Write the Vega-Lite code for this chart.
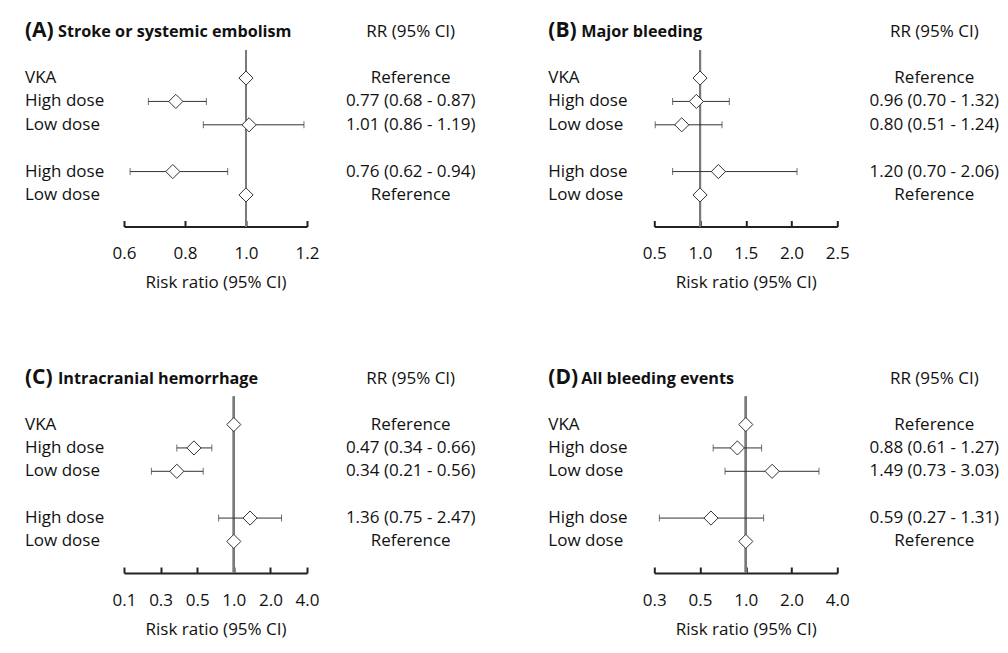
{
  "$schema": "https://vega.github.io/schema/vega-lite/v6.json",
  "padding": {"left": 25, "top": 20, "right": 0, "bottom": 6},
  "background": "white",
  "config": {
    "view": {"stroke": null},
    "font": "Open Sans",
    "text": {"font": "Open Sans", "fontSize": 17, "color": "#111111"},
    "axis": {
      "grid": false,
      "domainColor": "#222222",
      "domainWidth": 2,
      "tickColor": "#222222",
      "tickWidth": 2,
      "tickSize": -6,
      "labelFont": "Open Sans",
      "labelFontSize": 17,
      "labelColor": "#111111",
      "labelPadding": 25,
      "labelFlush": false,
      "labelOverlap": false,
      "titleFont": "Open Sans",
      "titleFontSize": 17,
      "titleFontWeight": "normal",
      "titleColor": "#111111",
      "titlePadding": 13
    }
  },
  "datasets": {
    "rows": [
      {"panel": "A", "row": 2, "label": "VKA", "est": 1.0, "lo": null, "hi": null, "rr": "Reference"},
      {"panel": "A", "row": 3, "label": "High dose", "est": 0.77, "lo": 0.68, "hi": 0.87, "rr": "0.77 (0.68 - 0.87)"},
      {"panel": "A", "row": 4, "label": "Low dose", "est": 1.01, "lo": 0.86, "hi": 1.19, "rr": "1.01 (0.86 - 1.19)"},
      {"panel": "A", "row": 6, "label": "High dose", "est": 0.76, "lo": 0.62, "hi": 0.94, "rr": "0.76 (0.62 - 0.94)"},
      {"panel": "A", "row": 7, "label": "Low dose", "est": 1.0, "lo": null, "hi": null, "rr": "Reference"},
      {"panel": "B", "row": 2, "label": "VKA", "est": 1.0, "lo": null, "hi": null, "rr": "Reference"},
      {"panel": "B", "row": 3, "label": "High dose", "est": 0.96, "lo": 0.70, "hi": 1.32, "rr": "0.96 (0.70 - 1.32)"},
      {"panel": "B", "row": 4, "label": "Low dose", "est": 0.80, "lo": 0.51, "hi": 1.24, "rr": "0.80 (0.51 - 1.24)"},
      {"panel": "B", "row": 6, "label": "High dose", "est": 1.20, "lo": 0.70, "hi": 2.06, "rr": "1.20 (0.70 - 2.06)"},
      {"panel": "B", "row": 7, "label": "Low dose", "est": 1.0, "lo": null, "hi": null, "rr": "Reference"},
      {"panel": "C", "row": 2, "label": "VKA", "est": 1.0, "lo": null, "hi": null, "rr": "Reference"},
      {"panel": "C", "row": 3, "label": "High dose", "est": 0.47, "lo": 0.34, "hi": 0.66, "rr": "0.47 (0.34 - 0.66)"},
      {"panel": "C", "row": 4, "label": "Low dose", "est": 0.34, "lo": 0.21, "hi": 0.56, "rr": "0.34 (0.21 - 0.56)"},
      {"panel": "C", "row": 6, "label": "High dose", "est": 1.36, "lo": 0.75, "hi": 2.47, "rr": "1.36 (0.75 - 2.47)"},
      {"panel": "C", "row": 7, "label": "Low dose", "est": 1.0, "lo": null, "hi": null, "rr": "Reference"},
      {"panel": "D", "row": 2, "label": "VKA", "est": 1.0, "lo": null, "hi": null, "rr": "Reference"},
      {"panel": "D", "row": 3, "label": "High dose", "est": 0.88, "lo": 0.61, "hi": 1.27, "rr": "0.88 (0.61 - 1.27)"},
      {"panel": "D", "row": 4, "label": "Low dose", "est": 1.49, "lo": 0.73, "hi": 3.03, "rr": "1.49 (0.73 - 3.03)"},
      {"panel": "D", "row": 6, "label": "High dose", "est": 0.59, "lo": 0.27, "hi": 1.31, "rr": "0.59 (0.27 - 1.31)"},
      {"panel": "D", "row": 7, "label": "Low dose", "est": 1.0, "lo": null, "hi": null, "rr": "Reference"}
    ],
    "panels": [
      {"panel": "A", "tag": "(A)", "title": "Stroke or systemic embolism", "head": "RR (95% CI)"},
      {"panel": "B", "tag": "(B)", "title": "Major bleeding", "head": "RR (95% CI)"},
      {"panel": "C", "tag": "(C)", "title": "Intracranial hemorrhage", "head": "RR (95% CI)"},
      {"panel": "D", "tag": "(D)", "title": "All bleeding events", "head": "RR (95% CI)"}
    ]
  },
  "vconcat": [
    {
      "hconcat": [
        {
          "hconcat": [
            {
              "width": 68.3, "height": 176.5,
              "layer": [
                {"data": {"name": "rows"}, "transform": [{"filter": "datum.panel == 'A'"}],
                 "mark": {"type": "text", "align": "left", "baseline": "middle"},
                 "encoding": {"x": {"datum": 0, "type": "quantitative", "scale": {"domain": [0, 1]}, "axis": null},
                              "y": {"field": "row", "type": "quantitative", "scale": {"domain": [0.8, 8.35], "reverse": true, "nice": false, "zero": false}, "axis": null},
                              "text": {"field": "label"}}},
                {"data": {"name": "panels"}, "transform": [{"filter": "datum.panel == 'A'"}],
                 "mark": {"type": "text", "align": "left", "baseline": "alphabetic", "fontWeight": "bold", "fontSize": 21},
                 "encoding": {"x": {"datum": 0, "type": "quantitative"}, "y": {"datum": 0.25, "type": "quantitative"}, "text": {"field": "tag"}}},
                {"data": {"name": "panels"}, "transform": [{"filter": "datum.panel == 'A'"}],
                 "mark": {"type": "text", "align": "left", "baseline": "alphabetic", "fontWeight": "bold", "fontSize": 16.2, "dx": 33},
                 "encoding": {"x": {"datum": 0, "type": "quantitative"}, "y": {"datum": 0.25, "type": "quantitative"}, "text": {"field": "title"}}}
              ]
            },
            {
              "width": 183, "height": 176.5,
              "data": {"name": "rows"}, "transform": [{"filter": "datum.panel == 'A'"}],
              "layer": [
                {"mark": {"type": "rule", "color": "#7a7a7a", "strokeWidth": 2},
                 "encoding": {"x": {"datum": 1, "type": "quantitative", "scale": {"domain": [0.6, 1.2], "nice": false, "zero": false},
                                    "axis": {"values": [0.6, 0.8, 1.0, 1.2], "format": ".1f", "title": "Risk ratio (95% CI)"}}}},
                {"transform": [{"filter": "isValid(datum.lo)"}],
                 "mark": {"type": "rule", "color": "#333333", "strokeWidth": 1},
                 "encoding": {"x": {"field": "lo", "type": "quantitative"}, "x2": {"field": "hi"},
                              "y": {"field": "row", "type": "quantitative", "scale": {"domain": [0.8, 8.35], "reverse": true, "nice": false, "zero": false}, "axis": null}}},
                {"transform": [{"filter": "isValid(datum.lo)"}],
                 "mark": {"type": "tick", "orient": "vertical", "color": "#333333", "size": 7, "thickness": 1},
                 "encoding": {"x": {"field": "lo", "type": "quantitative"}, "y": {"field": "row", "type": "quantitative"}}},
                {"transform": [{"filter": "isValid(datum.hi)"}],
                 "mark": {"type": "tick", "orient": "vertical", "color": "#333333", "size": 7, "thickness": 1},
                 "encoding": {"x": {"field": "hi", "type": "quantitative"}, "y": {"field": "row", "type": "quantitative"}}},
                {"mark": {"type": "point", "shape": "diamond", "filled": true, "fill": "white", "stroke": "#333333", "strokeWidth": 1, "size": 200, "opacity": 1},
                 "encoding": {"x": {"field": "est", "type": "quantitative"}, "y": {"field": "row", "type": "quantitative"}}}
              ]
            },
            {
              "width": 147.4, "height": 176.5,
              "layer": [
                {"data": {"name": "rows"}, "transform": [{"filter": "datum.panel == 'A'"}],
                 "mark": {"type": "text", "align": "center", "baseline": "middle"},
                 "encoding": {"y": {"field": "row", "type": "quantitative", "scale": {"domain": [0.8, 8.35], "reverse": true, "nice": false, "zero": false}, "axis": null},
                              "text": {"field": "rr"}}},
                {"data": {"name": "panels"}, "transform": [{"filter": "datum.panel == 'A'"}],
                 "mark": {"type": "text", "align": "center", "baseline": "alphabetic"},
                 "encoding": {"y": {"datum": 0.25, "type": "quantitative"}, "text": {"field": "head"}}}
              ]
            }
          ],
          "spacing": 30, "bounds": "flush"
        },
        {
          "hconcat": [
            {
              "width": 76, "height": 176.5,
              "layer": [
                {"data": {"name": "rows"}, "transform": [{"filter": "datum.panel == 'B'"}],
                 "mark": {"type": "text", "align": "left", "baseline": "middle"},
                 "encoding": {"x": {"datum": 0, "type": "quantitative", "scale": {"domain": [0, 1]}, "axis": null},
                              "y": {"field": "row", "type": "quantitative", "scale": {"domain": [0.8, 8.35], "reverse": true, "nice": false, "zero": false}, "axis": null},
                              "text": {"field": "label"}}},
                {"data": {"name": "panels"}, "transform": [{"filter": "datum.panel == 'B'"}],
                 "mark": {"type": "text", "align": "left", "baseline": "alphabetic", "fontWeight": "bold", "fontSize": 21},
                 "encoding": {"x": {"datum": 0, "type": "quantitative"}, "y": {"datum": 0.25, "type": "quantitative"}, "text": {"field": "tag"}}},
                {"data": {"name": "panels"}, "transform": [{"filter": "datum.panel == 'B'"}],
                 "mark": {"type": "text", "align": "left", "baseline": "alphabetic", "fontWeight": "bold", "fontSize": 16.2, "dx": 33},
                 "encoding": {"x": {"datum": 0, "type": "quantitative"}, "y": {"datum": 0.25, "type": "quantitative"}, "text": {"field": "title"}}}
              ]
            },
            {
              "width": 183, "height": 176.5,
              "data": {"name": "rows"}, "transform": [{"filter": "datum.panel == 'B'"}],
              "layer": [
                {"mark": {"type": "rule", "color": "#7a7a7a", "strokeWidth": 2},
                 "encoding": {"x": {"datum": 1, "type": "quantitative", "scale": {"domain": [0.5, 2.5], "nice": false, "zero": false},
                                    "axis": {"values": [0.5, 1.0, 1.5, 2.0, 2.5], "format": ".1f", "title": "Risk ratio (95% CI)"}}}},
                {"transform": [{"filter": "isValid(datum.lo)"}],
                 "mark": {"type": "rule", "color": "#333333", "strokeWidth": 1},
                 "encoding": {"x": {"field": "lo", "type": "quantitative"}, "x2": {"field": "hi"},
                              "y": {"field": "row", "type": "quantitative", "scale": {"domain": [0.8, 8.35], "reverse": true, "nice": false, "zero": false}, "axis": null}}},
                {"transform": [{"filter": "isValid(datum.lo)"}],
                 "mark": {"type": "tick", "orient": "vertical", "color": "#333333", "size": 7, "thickness": 1},
                 "encoding": {"x": {"field": "lo", "type": "quantitative"}, "y": {"field": "row", "type": "quantitative"}}},
                {"transform": [{"filter": "isValid(datum.hi)"}],
                 "mark": {"type": "tick", "orient": "vertical", "color": "#333333", "size": 7, "thickness": 1},
                 "encoding": {"x": {"field": "hi", "type": "quantitative"}, "y": {"field": "row", "type": "quantitative"}}},
                {"mark": {"type": "point", "shape": "diamond", "filled": true, "fill": "white", "stroke": "#333333", "strokeWidth": 1, "size": 200, "opacity": 1},
                 "encoding": {"x": {"field": "est", "type": "quantitative"}, "y": {"field": "row", "type": "quantitative"}}}
              ]
            },
            {
              "width": 134, "height": 176.5,
              "layer": [
                {"data": {"name": "rows"}, "transform": [{"filter": "datum.panel == 'B'"}],
                 "mark": {"type": "text", "align": "center", "baseline": "middle"},
                 "encoding": {"y": {"field": "row", "type": "quantitative", "scale": {"domain": [0.8, 8.35], "reverse": true, "nice": false, "zero": false}, "axis": null},
                              "text": {"field": "rr"}}},
                {"data": {"name": "panels"}, "transform": [{"filter": "datum.panel == 'B'"}],
                 "mark": {"type": "text", "align": "center", "baseline": "alphabetic"},
                 "encoding": {"y": {"datum": 0.25, "type": "quantitative"}, "text": {"field": "head"}}}
              ]
            }
          ],
          "spacing": 30, "bounds": "flush"
        }
      ],
      "spacing": 63.3
    },
    {
      "hconcat": [
        {
          "hconcat": [
            {
              "width": 68.3, "height": 176.5,
              "layer": [
                {"data": {"name": "rows"}, "transform": [{"filter": "datum.panel == 'C'"}],
                 "mark": {"type": "text", "align": "left", "baseline": "middle"},
                 "encoding": {"x": {"datum": 0, "type": "quantitative", "scale": {"domain": [0, 1]}, "axis": null},
                              "y": {"field": "row", "type": "quantitative", "scale": {"domain": [0.8, 8.35], "reverse": true, "nice": false, "zero": false}, "axis": null},
                              "text": {"field": "label"}}},
                {"data": {"name": "panels"}, "transform": [{"filter": "datum.panel == 'C'"}],
                 "mark": {"type": "text", "align": "left", "baseline": "alphabetic", "fontWeight": "bold", "fontSize": 21},
                 "encoding": {"x": {"datum": 0, "type": "quantitative"}, "y": {"datum": 0.25, "type": "quantitative"}, "text": {"field": "tag"}}},
                {"data": {"name": "panels"}, "transform": [{"filter": "datum.panel == 'C'"}],
                 "mark": {"type": "text", "align": "left", "baseline": "alphabetic", "fontWeight": "bold", "fontSize": 16.2, "dx": 33},
                 "encoding": {"x": {"datum": 0, "type": "quantitative"}, "y": {"datum": 0.25, "type": "quantitative"}, "text": {"field": "title"}}}
              ]
            },
            {
              "width": 183, "height": 176.5,
              "data": {"name": "rows"}, "transform": [{"filter": "datum.panel == 'C'"}],
              "layer": [
                {"mark": {"type": "rule", "color": "#7a7a7a", "strokeWidth": 2},
                 "encoding": {"x": {"datum": 1, "type": "quantitative", "scale": {"type": "log", "base": 2, "domain": [0.125, 4], "nice": false},
                                    "axis": {"values": [0.125, 0.25, 0.5, 1, 2, 4], "format": ".1f", "title": "Risk ratio (95% CI)"}}}},
                {"transform": [{"filter": "isValid(datum.lo)"}],
                 "mark": {"type": "rule", "color": "#333333", "strokeWidth": 1},
                 "encoding": {"x": {"field": "lo", "type": "quantitative"}, "x2": {"field": "hi"},
                              "y": {"field": "row", "type": "quantitative", "scale": {"domain": [0.8, 8.35], "reverse": true, "nice": false, "zero": false}, "axis": null}}},
                {"transform": [{"filter": "isValid(datum.lo)"}],
                 "mark": {"type": "tick", "orient": "vertical", "color": "#333333", "size": 7, "thickness": 1},
                 "encoding": {"x": {"field": "lo", "type": "quantitative"}, "y": {"field": "row", "type": "quantitative"}}},
                {"transform": [{"filter": "isValid(datum.hi)"}],
                 "mark": {"type": "tick", "orient": "vertical", "color": "#333333", "size": 7, "thickness": 1},
                 "encoding": {"x": {"field": "hi", "type": "quantitative"}, "y": {"field": "row", "type": "quantitative"}}},
                {"mark": {"type": "point", "shape": "diamond", "filled": true, "fill": "white", "stroke": "#333333", "strokeWidth": 1, "size": 200, "opacity": 1},
                 "encoding": {"x": {"field": "est", "type": "quantitative"}, "y": {"field": "row", "type": "quantitative"}}}
              ]
            },
            {
              "width": 147.4, "height": 176.5,
              "layer": [
                {"data": {"name": "rows"}, "transform": [{"filter": "datum.panel == 'C'"}],
                 "mark": {"type": "text", "align": "center", "baseline": "middle"},
                 "encoding": {"y": {"field": "row", "type": "quantitative", "scale": {"domain": [0.8, 8.35], "reverse": true, "nice": false, "zero": false}, "axis": null},
                              "text": {"field": "rr"}}},
                {"data": {"name": "panels"}, "transform": [{"filter": "datum.panel == 'C'"}],
                 "mark": {"type": "text", "align": "center", "baseline": "alphabetic"},
                 "encoding": {"y": {"datum": 0.25, "type": "quantitative"}, "text": {"field": "head"}}}
              ]
            }
          ],
          "spacing": 30, "bounds": "flush"
        },
        {
          "hconcat": [
            {
              "width": 76, "height": 176.5,
              "layer": [
                {"data": {"name": "rows"}, "transform": [{"filter": "datum.panel == 'D'"}],
                 "mark": {"type": "text", "align": "left", "baseline": "middle"},
                 "encoding": {"x": {"datum": 0, "type": "quantitative", "scale": {"domain": [0, 1]}, "axis": null},
                              "y": {"field": "row", "type": "quantitative", "scale": {"domain": [0.8, 8.35], "reverse": true, "nice": false, "zero": false}, "axis": null},
                              "text": {"field": "label"}}},
                {"data": {"name": "panels"}, "transform": [{"filter": "datum.panel == 'D'"}],
                 "mark": {"type": "text", "align": "left", "baseline": "alphabetic", "fontWeight": "bold", "fontSize": 21},
                 "encoding": {"x": {"datum": 0, "type": "quantitative"}, "y": {"datum": 0.25, "type": "quantitative"}, "text": {"field": "tag"}}},
                {"data": {"name": "panels"}, "transform": [{"filter": "datum.panel == 'D'"}],
                 "mark": {"type": "text", "align": "left", "baseline": "alphabetic", "fontWeight": "bold", "fontSize": 16.2, "dx": 33},
                 "encoding": {"x": {"datum": 0, "type": "quantitative"}, "y": {"datum": 0.25, "type": "quantitative"}, "text": {"field": "title"}}}
              ]
            },
            {
              "width": 183, "height": 176.5,
              "data": {"name": "rows"}, "transform": [{"filter": "datum.panel == 'D'"}],
              "layer": [
                {"mark": {"type": "rule", "color": "#7a7a7a", "strokeWidth": 2},
                 "encoding": {"x": {"datum": 1, "type": "quantitative", "scale": {"type": "log", "base": 2, "domain": [0.25, 4], "nice": false},
                                    "axis": {"values": [0.25, 0.5, 1, 2, 4], "format": ".1f", "title": "Risk ratio (95% CI)"}}}},
                {"transform": [{"filter": "isValid(datum.lo)"}],
                 "mark": {"type": "rule", "color": "#333333", "strokeWidth": 1},
                 "encoding": {"x": {"field": "lo", "type": "quantitative"}, "x2": {"field": "hi"},
                              "y": {"field": "row", "type": "quantitative", "scale": {"domain": [0.8, 8.35], "reverse": true, "nice": false, "zero": false}, "axis": null}}},
                {"transform": [{"filter": "isValid(datum.lo)"}],
                 "mark": {"type": "tick", "orient": "vertical", "color": "#333333", "size": 7, "thickness": 1},
                 "encoding": {"x": {"field": "lo", "type": "quantitative"}, "y": {"field": "row", "type": "quantitative"}}},
                {"transform": [{"filter": "isValid(datum.hi)"}],
                 "mark": {"type": "tick", "orient": "vertical", "color": "#333333", "size": 7, "thickness": 1},
                 "encoding": {"x": {"field": "hi", "type": "quantitative"}, "y": {"field": "row", "type": "quantitative"}}},
                {"mark": {"type": "point", "shape": "diamond", "filled": true, "fill": "white", "stroke": "#333333", "strokeWidth": 1, "size": 200, "opacity": 1},
                 "encoding": {"x": {"field": "est", "type": "quantitative"}, "y": {"field": "row", "type": "quantitative"}}}
              ]
            },
            {
              "width": 134, "height": 176.5,
              "layer": [
                {"data": {"name": "rows"}, "transform": [{"filter": "datum.panel == 'D'"}],
                 "mark": {"type": "text", "align": "center", "baseline": "middle"},
                 "encoding": {"y": {"field": "row", "type": "quantitative", "scale": {"domain": [0.8, 8.35], "reverse": true, "nice": false, "zero": false}, "axis": null},
                              "text": {"field": "rr"}}},
                {"data": {"name": "panels"}, "transform": [{"filter": "datum.panel == 'D'"}],
                 "mark": {"type": "text", "align": "center", "baseline": "alphabetic"},
                 "encoding": {"y": {"datum": 0.25, "type": "quantitative"}, "text": {"field": "head"}}}
              ]
            }
          ],
          "spacing": 30, "bounds": "flush"
        }
      ],
      "spacing": 63.3
    }
  ],
  "spacing": 75.5
}
